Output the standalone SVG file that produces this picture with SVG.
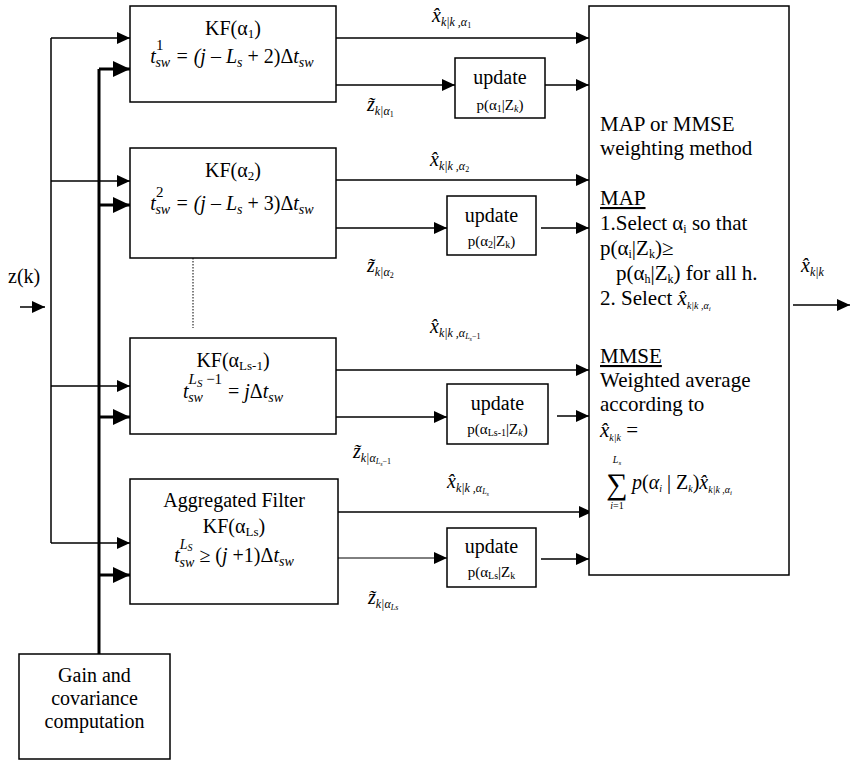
<svg xmlns="http://www.w3.org/2000/svg" width="850" height="762" viewBox="0 0 850 762" font-family="'Liberation Serif', serif">
<style>
text { font-family: 'Liberation Serif', serif; fill: #000; }
.lbl { font-size: 20px; }
.it { font-style: italic; }
.box { fill: #fff; stroke: #000; stroke-width: 1.5; }
.thin { stroke: #000; stroke-width: 1.5; fill: none; }
.thick { stroke: #000; stroke-width: 3; fill: none; }
.mid { text-anchor: middle; }
</style>
<defs>
<marker id="ah" markerUnits="userSpaceOnUse" markerWidth="13" markerHeight="12" viewBox="0 0 13 12" refX="13" refY="6" orient="auto"><path d="M0,0 L13,6 L0,12 Z" fill="#000"/></marker>
<marker id="ahb" markerUnits="userSpaceOnUse" markerWidth="17" markerHeight="16" viewBox="0 0 17 16" refX="17" refY="8" orient="auto"><path d="M0,0 L17,8 L0,16 Z" fill="#000"/></marker>
</defs>

<g id="connectors">
  <line class="thin" x1="20" y1="307" x2="45" y2="307" marker-end="url(#ah)"/>
  <line class="thin" x1="51" y1="38" x2="51" y2="543"/>
  <line class="thin" x1="51" y1="38" x2="130" y2="38" marker-end="url(#ah)"/>
  <line class="thin" x1="51" y1="181" x2="130" y2="181" marker-end="url(#ah)"/>
  <line class="thin" x1="51" y1="386" x2="130" y2="386" marker-end="url(#ah)"/>
  <line class="thin" x1="51" y1="543" x2="130" y2="543" marker-end="url(#ah)"/>
  <line class="thick" x1="99" y1="69" x2="99" y2="654"/>
  <line class="thick" x1="99" y1="69" x2="130" y2="69" marker-end="url(#ahb)"/>
  <line class="thick" x1="99" y1="205" x2="130" y2="205" marker-end="url(#ahb)"/>
  <line class="thick" x1="99" y1="417" x2="130" y2="417" marker-end="url(#ahb)"/>
  <line class="thick" x1="99" y1="575" x2="130" y2="575" marker-end="url(#ahb)"/>
  <line x1="193" y1="258" x2="193" y2="328" stroke="#000" stroke-width="1" stroke-dasharray="1.5,1.5"/>
  <line class="thin" x1="336" y1="38" x2="589" y2="38" marker-end="url(#ah)"/>
  <line class="thin" x1="336" y1="85" x2="455" y2="85" marker-end="url(#ah)"/>
  <line class="thin" x1="545" y1="85" x2="589" y2="85" marker-end="url(#ah)"/>
  <line class="thin" x1="336" y1="180" x2="589" y2="180" marker-end="url(#ah)"/>
  <line class="thin" x1="336" y1="228" x2="447" y2="228" marker-end="url(#ah)"/>
  <line class="thin" x1="541" y1="228" x2="589" y2="228" marker-end="url(#ah)"/>
  <line class="thin" x1="336" y1="370" x2="589" y2="370" marker-end="url(#ah)"/>
  <line class="thin" x1="336" y1="417" x2="447" y2="417" marker-end="url(#ah)"/>
  <line class="thin" x1="557" y1="416" x2="589" y2="416" marker-end="url(#ah)"/>
  <line class="thin" x1="338" y1="512" x2="592" y2="512" marker-end="url(#ah)"/>
  <line x1="338" y1="558" x2="447" y2="558" stroke="#000" stroke-width="1" marker-end="url(#ah)"/>
  <line class="thin" x1="541" y1="559" x2="589" y2="559" marker-end="url(#ah)"/>
  <line class="thin" x1="793" y1="305" x2="850" y2="305" marker-end="url(#ah)"/>
</g>

<g id="input-label">
  <text class="lbl" x="8" y="283">z(k)</text>
</g>

<g id="kf1">
  <rect class="box" x="130" y="6" width="206" height="96"/>
  <text class="lbl mid" x="233" y="35">KF(α<tspan font-size="13" dy="3">1</tspan><tspan dy="-3">)</tspan></text>
  <text class="lbl mid it" x="232" y="63">t<tspan font-style="normal" font-size="15" dy="-13">1</tspan><tspan font-size="14" dx="-8" dy="17">sw</tspan><tspan dy="-4"> = (</tspan><tspan>j</tspan><tspan font-style="normal"> – </tspan><tspan>L</tspan><tspan font-size="14" dy="4">s</tspan><tspan font-style="normal" dy="-4"> + 2)Δ</tspan><tspan>t</tspan><tspan font-size="14" dy="4">sw</tspan></text>
</g>

<g id="kf2">
  <rect class="box" x="130" y="148" width="206" height="110"/>
  <text class="lbl mid" x="233" y="177">KF(α<tspan font-size="13" dy="3">2</tspan><tspan dy="-3">)</tspan></text>
  <text class="lbl mid it" x="232" y="210">t<tspan font-style="normal" font-size="15" dy="-13">2</tspan><tspan font-size="14" dx="-8" dy="17">sw</tspan><tspan dy="-4"> = (</tspan><tspan>j</tspan><tspan font-style="normal"> – </tspan><tspan>L</tspan><tspan font-size="14" dy="4">s</tspan><tspan font-style="normal" dy="-4"> + 3)Δ</tspan><tspan>t</tspan><tspan font-size="14" dy="4">sw</tspan></text>
</g>

<g id="kf3">
  <rect class="box" x="130" y="338" width="206" height="96"/>
  <text class="lbl mid" x="233" y="367">KF(α<tspan font-size="13" dy="3">Ls-1</tspan><tspan dy="-3">)</tspan></text>
  <text class="lbl mid it" x="233" y="398">t<tspan font-size="15" dy="-14">L</tspan><tspan font-size="11" dy="3">S</tspan><tspan font-style="normal" font-size="15" dy="-3"> −1</tspan><tspan font-size="14" dx="-34" dy="18">sw</tspan><tspan font-style="normal" dx="20" dy="-4"> = </tspan><tspan>j</tspan><tspan font-style="normal">Δ</tspan><tspan>t</tspan><tspan font-size="14" dy="4">sw</tspan></text>
</g>

<g id="kf4">
  <rect class="box" x="130" y="479" width="208" height="125"/>
  <text class="lbl mid" x="234" y="507">Aggregated Filter</text>
  <text class="lbl mid" x="234" y="533">KF(α<tspan font-size="13" dy="3">Ls</tspan><tspan dy="-3">)</tspan></text>
  <text class="lbl mid it" x="234" y="562">t<tspan font-size="14" dy="-13">L</tspan><tspan font-size="10" dy="2">S</tspan><tspan font-size="14" dx="-13" dy="16">sw</tspan><tspan font-style="normal" dy="-5">  ≥ (</tspan><tspan>j</tspan><tspan font-style="normal"> +1)Δ</tspan><tspan>t</tspan><tspan font-size="14" dy="4">sw</tspan></text>
</g>

<g id="gain">
  <rect class="box" x="19" y="654" width="151" height="105"/>
  <text class="lbl mid" x="94.5" y="682">Gain and</text>
  <text class="lbl mid" x="94.5" y="705">covariance</text>
  <text class="lbl mid" x="94.5" y="728">computation</text>
</g>

<g id="update1">
  <rect class="box" x="455" y="58" width="90" height="60"/>
  <text class="lbl mid" x="500" y="84">update</text>
  <text class="mid" x="500" y="110" font-size="15">p(α<tspan font-size="10" dy="2">1</tspan><tspan dy="-2">|Z</tspan><tspan font-size="10" dy="2" font-style="italic">k</tspan><tspan dy="-2">)</tspan></text>
</g>
<g id="update2">
  <rect class="box" x="447" y="196" width="89" height="59"/>
  <text class="lbl mid" x="491.5" y="222">update</text>
  <text class="mid" x="491.5" y="246" font-size="15">p(α<tspan font-size="10" dy="2">2</tspan><tspan dy="-2">|Z</tspan><tspan font-size="10" dy="2">k</tspan><tspan dy="-2">)</tspan></text>
</g>
<g id="update3">
  <rect class="box" x="447" y="384" width="101" height="60"/>
  <text class="lbl mid" x="497.5" y="410">update</text>
  <text class="mid" x="497.5" y="434" font-size="15">p(α<tspan font-size="10" dy="2">Ls-1</tspan><tspan dy="-2">|Z</tspan><tspan font-size="10" dy="2" font-style="italic">k</tspan><tspan dy="-2">)</tspan></text>
</g>
<g id="update4">
  <rect class="box" x="447" y="528" width="89" height="59"/>
  <text class="lbl mid" x="491.5" y="553">update</text>
  <text class="mid" x="491.5" y="577" font-size="15">p(α<tspan font-size="10" dy="2">Ls</tspan><tspan dy="-2">|Z</tspan><tspan font-size="10" dy="2">k</tspan></text>
</g>

<g id="signal-labels">
  <text class="lbl it" x="432" y="22">x̂<tspan font-size="12" dy="4">k|k ,α</tspan><tspan font-size="8" font-style="normal" dy="2">1</tspan></text>
  <text class="lbl it" x="367" y="111">z̃<tspan font-size="12" dy="4">k|α</tspan><tspan font-size="8" font-style="normal" dy="2">1</tspan></text>
  <text class="lbl it" x="430" y="166">x̂<tspan font-size="12" dy="4">k|k ,α</tspan><tspan font-size="8" font-style="normal" dy="2">2</tspan></text>
  <text class="lbl it" x="367" y="272">z̃<tspan font-size="12" dy="4">k|α</tspan><tspan font-size="8" font-style="normal" dy="2">2</tspan></text>
  <text class="lbl it" x="430" y="333">x̂<tspan font-size="12" dy="4">k|k ,α</tspan><tspan font-size="8" dy="2">L</tspan><tspan font-size="6" dy="2">s</tspan><tspan font-size="8" font-style="normal" dy="-2">−1</tspan></text>
  <text class="lbl it" x="353" y="458">z̃<tspan font-size="12" dy="4">k|α</tspan><tspan font-size="8" dy="2">L</tspan><tspan font-size="6" dy="2">s</tspan><tspan font-size="8" font-style="normal" dy="-2">−1</tspan></text>
  <text class="lbl it" x="447" y="488">x̂<tspan font-size="12" dy="4">k|k ,α</tspan><tspan font-size="8" dy="2">L</tspan><tspan font-size="6" dy="2">s</tspan></text>
  <text class="lbl it" x="368" y="604">z̃<tspan font-size="12" dy="4">k|α</tspan><tspan font-size="8" dy="2">Ls</tspan></text>
  <text class="lbl it" x="801" y="272">x̂<tspan font-size="12" dy="4">k|k</tspan></text>
</g>

<g id="weighting">
  <rect class="box" x="589" y="6" width="200" height="569"/>
  <text x="600" y="131" font-size="21">MAP or MMSE</text>
  <text x="600" y="155" font-size="21">weighting method</text>
  <text x="600" y="205" font-size="21" text-decoration="underline">MAP</text>
  <text x="600" y="230" font-size="21">1.Select α<tspan font-size="12" dy="3">i</tspan><tspan dy="-3"> so that</tspan></text>
  <text x="600" y="255" font-size="21">p(α<tspan font-size="12" dy="3">i</tspan><tspan dy="-3">|Z</tspan><tspan font-size="12" dy="3">k</tspan><tspan dy="-3">)≥</tspan></text>
  <text x="616" y="280" font-size="21">p(α<tspan font-size="12" dy="3">h</tspan><tspan dy="-3">|Z</tspan><tspan font-size="12" dy="3">k</tspan><tspan dy="-3">) for all h.</tspan></text>
  <text x="600" y="305" font-size="21">2. Select <tspan font-style="italic">x̂</tspan><tspan font-size="10" font-style="italic" dy="4">k|k ,α</tspan><tspan font-size="7" font-style="italic" dy="2">i</tspan></text>
  <text x="600" y="363" font-size="21" text-decoration="underline">MMSE</text>
  <text x="600" y="387" font-size="21">Weighted average</text>
  <text x="600" y="411" font-size="21">according to</text>
  <text x="600" y="437" font-size="21"><tspan font-style="italic">x̂</tspan><tspan font-size="10" font-style="italic" dy="4">k|k</tspan><tspan dy="-4"> =</tspan></text>
  <text x="617" y="494" font-size="30" class="mid">∑</text>
  <text x="617" y="463" font-size="10" class="mid it">L<tspan font-size="7" dy="2">s</tspan></text>
  <text x="617" y="509" font-size="10" class="mid it">i<tspan font-style="normal">=1</tspan></text>
  <text class="lbl it" x="632" y="489">p<tspan font-style="normal">(</tspan>α<tspan font-size="10" dy="3">i</tspan><tspan font-style="normal" dy="-3"> | Z</tspan><tspan font-size="10" dy="3">k</tspan><tspan font-style="normal" dy="-3">)</tspan>x̂<tspan font-size="10" dy="4">k|k ,α</tspan><tspan font-size="7" dy="2">i</tspan></text>
</g>
</svg>
